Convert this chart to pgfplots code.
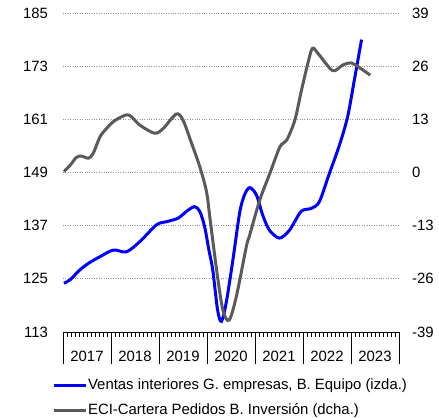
\documentclass[border=0pt]{standalone}
\usepackage{fontspec}
\setmainfont{Liberation Sans}
\usepackage{pgfplots}
\pgfplotsset{compat=1.18}
\definecolor{serblue}{RGB}{0,0,255}
\definecolor{sergray}{RGB}{90,90,90}
\definecolor{gridgray}{RGB}{150,150,150}
\begin{document}
\fontsize{14.9bp}{17bp}\selectfont
\begin{tikzpicture}
\useasboundingbox (-63bp,-86bp) rectangle (376bp,332bp);
\begin{axis}[name=ax1, at={(0,0)}, anchor=south west,
  scale only axis, width=336bp, height=319bp,
  xmin=2017, xmax=2024, ymin=113, ymax=185,
  axis x line*=bottom, axis y line*=left,
  x axis line style={-, black, line width=0.7bp},
  y axis line style={draw=none},
  ytick={113,125,...,185},
  yticklabels={113,125,137,149,161,173,185},
  ytick style={draw=none},
  yticklabel style={xshift=22bp},
  ymajorgrids, grid style={dotted, gridgray, line width=0.8bp},
  xtick={2017,...,2024}, xticklabels={},
  minor xtick={2017,2017.0833333,...,2024},
  tick align=outside,
  xtick style={black, line width=0.6bp},
  major tick length=32bp, minor tick length=5bp,
  extra x ticks={2017.5,2018.5,2019.5,2020.5,2021.5,2022.5,2023.5},
  extra x tick labels={2017,2018,2019,2020,2021,2022,2023},
  extra x tick style={major tick length=0pt, xticklabel style={yshift=-14bp}},
  legend style={at={(axis description cs:-0.033,-0.142)}, anchor=north west,
    draw=none, fill=none, row sep=10bp, inner sep=0pt, nodes={inner sep=1bp}},
  legend cell align=left,
  legend image code/.code={\draw[#1] (0bp,0bp) -- (32bp,0bp);},
]
\addplot[serblue, line width=3bp, smooth] coordinates {
(2017.02,124.0) (2017.15,124.8) (2017.35,127.0) (2017.53,128.5) (2017.77,130.0)
(2018.05,131.5) (2018.32,131.1) (2018.60,133.4) (2018.95,137.2) (2019.16,137.9)
(2019.40,138.7) (2019.57,140.2) (2019.74,141.3) (2019.85,140.2) (2019.95,136.8)
(2020.04,131.5) (2020.12,127.0) (2020.22,118.0) (2020.30,115.4) (2020.40,119.6)
(2020.54,129.3) (2020.68,139.9) (2020.78,143.9) (2020.89,145.6) (2021.03,143.9)
(2021.16,139.4) (2021.30,136.0) (2021.51,134.2) (2021.72,136.0) (2021.96,140.2)
(2022.17,140.9) (2022.34,142.4) (2022.55,148.8) (2022.76,155.2) (2022.93,161.6)
(2023.07,169.9) (2023.22,179.0)
};
\addlegendentry{Ventas interiores G. empresas, B. Equipo (izda.)}
\addlegendimage{sergray, line width=3bp}
\addlegendentry{ECI-Cartera Pedidos B. Inversión (dcha.)}
\end{axis}
\begin{axis}[at={(0,0)}, anchor=south west,
  scale only axis, width=336bp, height=319bp,
  xmin=2017, xmax=2024, ymin=-39, ymax=39,
  axis x line=none, axis y line*=right,
  y axis line style={draw=none},
  ytick={-39,-26,...,39},
  yticklabels={-39,-26,-13,0,13,26,39},
  ytick style={draw=none},
  yticklabel style={xshift=8bp},
]
\addplot[sergray, line width=3bp, smooth] coordinates {
(2017.02,0.2) (2017.15,1.8) (2017.28,3.7) (2017.39,4.0) (2017.53,3.5) (2017.63,4.7)
(2017.77,8.7) (2017.91,10.8) (2018.08,12.7) (2018.32,14.1) (2018.43,13.6)
(2018.60,11.6) (2018.91,9.6) (2019.09,10.8) (2019.36,14.3) (2019.50,12.8)
(2019.68,7.1) (2019.85,1.4) (2019.99,-4.7) (2020.06,-11.0) (2020.20,-23.8)
(2020.33,-33.6) (2020.46,-36.1) (2020.61,-30.4) (2020.82,-18.1) (2020.89,-15.3)
(2021.10,-6.7) (2021.31,-0.2) (2021.52,6.3) (2021.66,7.9) (2021.83,12.8)
(2021.97,20.2) (2022.11,27.1) (2022.20,30.4) (2022.34,28.7) (2022.62,24.9)
(2022.83,26.3) (2023.00,26.8) (2023.17,25.7) (2023.40,23.8)
};
\end{axis}
\end{tikzpicture}
\end{document}
